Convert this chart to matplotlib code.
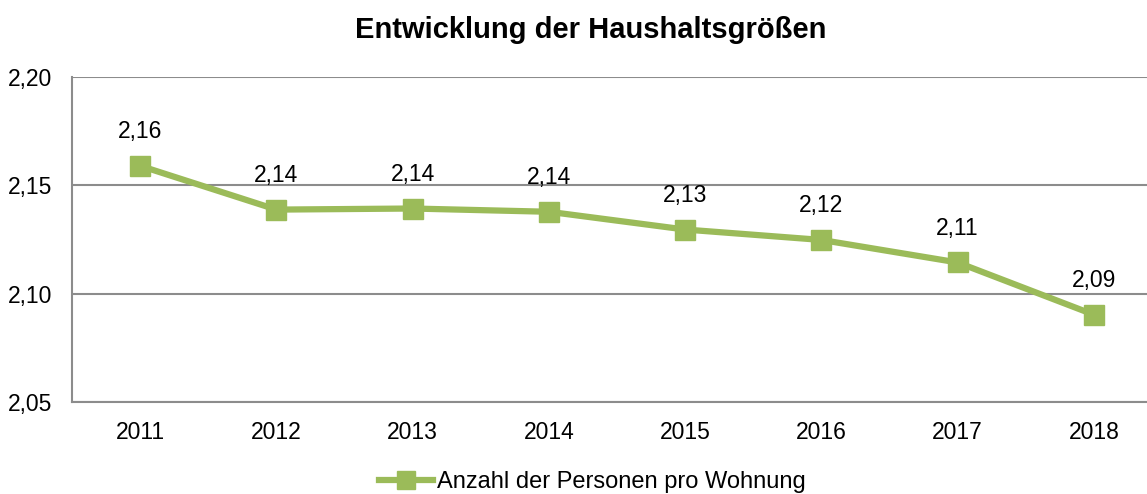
import matplotlib.pyplot as plt

plt.rcParams["font.family"] = ["Liberation Sans", "DejaVu Sans"]

years = ["2011", "2012", "2013", "2014", "2015", "2016", "2017", "2018"]
persons = [2.159, 2.1388, 2.1393, 2.1378, 2.1296, 2.1248, 2.1144, 2.0903]
labels = ["2,16", "2,14", "2,14", "2,14", "2,13", "2,12", "2,11", "2,09"]
yticks = [2.05, 2.10, 2.15, 2.20]

GREEN = "#9bbb59"
GRID = "#8c8c8c"

fig = plt.figure(figsize=(11.47, 4.94), dpi=100)
# plot area is cut off at the right edge in the original
ax = fig.add_axes([72 / 1147, 1 - 402 / 494, 1090 / 1147, 325 / 494])

x = list(range(len(years)))
line, = ax.plot(x, persons, color=GREEN, linewidth=4.5, marker="s",
                markersize=14, markerfacecolor=GREEN, markeredgecolor=GREEN,
                label="Anzahl der Personen pro Wohnung", clip_on=False)

for xi, v, lab in zip(x, persons, labels):
    ax.annotate(lab, (xi, v), xytext=(0, 24.5), textcoords="offset points",
                ha="center", va="center", fontsize=16.5, color="black")

ax.set_xlim(-0.5, len(years) - 0.5)
ax.set_ylim(2.05, 2.20)
ax.set_yticks(yticks)
ax.set_yticklabels([f"{t:.2f}".replace(".", ",") for t in yticks])
ax.set_xticks(x)
ax.set_xticklabels(years)
ax.tick_params(axis="both", length=0, labelsize=16.5, colors="black")
ax.tick_params(axis="y", pad=14)
ax.tick_params(axis="x", pad=14)

ax.grid(axis="y", color=GRID, linewidth=1.5)
ax.set_axisbelow(True)
for s in ["top", "right"]:
    ax.spines[s].set_visible(False)
for s in ["left", "bottom"]:
    ax.spines[s].set_color(GRID)
    ax.spines[s].set_linewidth(1.5)

fig.text(591 / 1147, 1 - 30 / 494, "Entwicklung der Haushaltsgrößen",
         ha="center", va="center", fontsize=21, fontweight="bold")

fig.legend(handles=[line], loc="center", bbox_to_anchor=(592 / 1147, 1 - 482 / 494),
           frameon=False, fontsize=17, handlelength=2.3, handletextpad=0.15,
           markerscale=0.9)

fig.savefig("out.png", dpi=100)
